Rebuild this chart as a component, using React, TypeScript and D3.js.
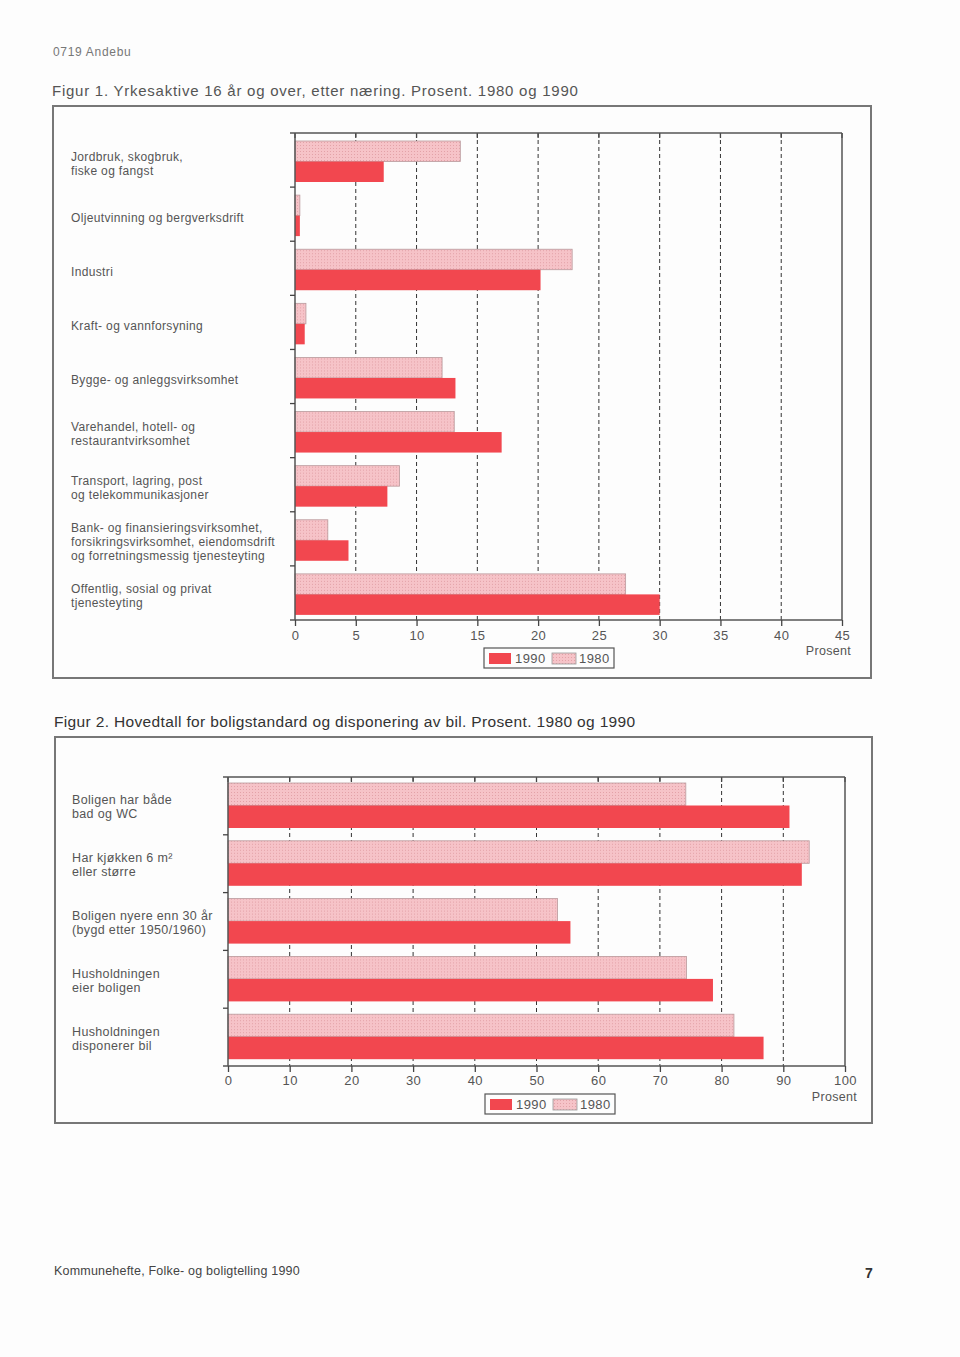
import React, { useRef, useEffect } from "react";
import * as d3 from "d3";

// Figur 1 - yrkesaktive etter næring
const fig1Categories = [
  "Jordbruk, skogbruk,\nfiske og fangst",
  "Oljeutvinning og bergverksdrift",
  "Industri",
  "Kraft- og vannforsyning",
  "Bygge- og anleggsvirksomhet",
  "Varehandel, hotell- og\nrestaurantvirksomhet",
  "Transport, lagring, post\nog telekommunikasjoner",
  "Bank- og finansieringsvirksomhet,\nforsikringsvirksomhet, eiendomsdrift\nog forretningsmessig tjenesteyting",
  "Offentlig, sosial og privat\ntjenesteyting",
];
const fig1Values1980 = [13.6, 0.4, 22.8, 0.9, 12.1, 13.1, 8.6, 2.7, 27.2];
const fig1Values1990 = [7.3, 0.4, 20.2, 0.8, 13.2, 17.0, 7.6, 4.4, 30.0];
const fig1Ticks = [0, 5, 10, 15, 20, 25, 30, 35, 40, 45];

// Figur 2 - boligstandard og bil
const fig2Categories = [
  "Boligen har både\nbad og WC",
  "Har kjøkken 6 m²\neller større",
  "Boligen nyere enn 30 år\n(bygd etter 1950/1960)",
  "Husholdningen\neier boligen",
  "Husholdningen\ndisponerer bil",
];
const fig2Values1980 = [74.2, 94.2, 53.4, 74.3, 82.0];
const fig2Values1990 = [91.0, 93.0, 55.5, 78.6, 86.8];
const fig2Ticks = [0, 10, 20, 30, 40, 50, 60, 70, 80, 90, 100];

const years = ["1980", "1990"];
const RED = "#f2474f";
const PINK = "#f6c3c8";
const FONT = "'Liberation Sans', Arial, sans-serif";

type ChartCfg = {
  cats: string[];
  v1980: number[];
  v1990: number[];
  ticks: number[];
  x0: number;
  x1: number;
  y0: number;
  y1: number;
  labelX: number;
  labelDy: number;
  labelSize: number;
  barTop: number;
  barH: number;
  tickLabelY: number;
  prosentX: number;
  prosentY: number;
  legendX: number;
  legendY: number;
};

function drawChart(svg: any, c: ChartCfg) {
  const g = svg.append("g");
  const x = d3.scaleLinear().domain([0, c.ticks[c.ticks.length - 1]]).range([c.x0, c.x1]);
  const y = d3.scaleBand<number>().domain(d3.range(c.cats.length)).range([c.y0, c.y1]);
  const yy = d3
    .scaleBand<string>()
    .domain(years)
    .range([c.barTop, c.barTop + c.barH * 2]);

  // dashed grid
  g.selectAll(".grid")
    .data(c.ticks.slice(1, -1))
    .join("line")
    .attr("x1", (d: number) => x(d))
    .attr("x2", (d: number) => x(d))
    .attr("y1", c.y0)
    .attr("y2", c.y1)
    .attr("stroke", "#333")
    .attr("stroke-width", 1)
    .attr("stroke-dasharray", "4,3");

  // top ticks
  g.selectAll(".ttick")
    .data(c.ticks)
    .join("line")
    .attr("x1", (d: number) => x(d))
    .attr("x2", (d: number) => x(d))
    .attr("y1", c.y0)
    .attr("y2", c.y0 + 5)
    .attr("stroke", "#444")
    .attr("stroke-width", 1.3);

  const rows = g
    .selectAll(".row")
    .data(c.cats.map((cat, i) => ({ cat, i })))
    .join("g")
    .attr("transform", (d: any) => `translate(0,${y(d.i)})`);

  rows
    .append("rect")
    .attr("x", x(0))
    .attr("y", yy("1980"))
    .attr("width", (d: any) => x(c.v1980[d.i]) - x(0))
    .attr("height", yy.bandwidth())
    .attr("fill", "url(#dots)")
    .attr("stroke", "#b9999c")
    .attr("stroke-width", 0.8);

  rows
    .append("rect")
    .attr("x", x(0))
    .attr("y", yy("1990"))
    .attr("width", (d: any) => x(c.v1990[d.i]) - x(0))
    .attr("height", yy.bandwidth())
    .attr("fill", RED);

  // category labels
  rows.each(function (this: any, d: any) {
    const lines = d.cat.split("\n");
    const mid = y.bandwidth() / 2 + c.labelDy;
    const t = d3
      .select(this)
      .append("text")
      .attr("font-family", FONT)
      .attr("font-size", c.labelSize)
      .attr("letter-spacing", 0.35)
      .attr("fill", "#555");
    lines.forEach((ln: string, k: number) => {
      t.append("tspan")
        .attr("x", c.labelX)
        .attr("y", mid + 4 + (k - (lines.length - 1) / 2) * 14)
        .text(ln);
    });
  });

  // frame: top, right, left axis
  g.append("line")
    .attr("x1", c.x0 - 5).attr("x2", c.x1)
    .attr("y1", c.y0).attr("y2", c.y0)
    .attr("stroke", "#555").attr("stroke-width", 1.5);
  g.append("line")
    .attr("x1", c.x1).attr("x2", c.x1)
    .attr("y1", c.y0).attr("y2", c.y1)
    .attr("stroke", "#555").attr("stroke-width", 1.5);
  g.append("line")
    .attr("x1", c.x0).attr("x2", c.x0)
    .attr("y1", c.y0).attr("y2", c.y1)
    .attr("stroke", "#555").attr("stroke-width", 1.5);
  g.selectAll(".ctick")
    .data(d3.range(1, c.cats.length))
    .join("line")
    .attr("x1", c.x0 - 5).attr("x2", c.x0)
    .attr("y1", (d: number) => y(d)).attr("y2", (d: number) => y(d))
    .attr("stroke", "#444").attr("stroke-width", 1.3);

  // bottom axis
  const axis = g
    .append("g")
    .attr("transform", `translate(0,${c.y1})`)
    .call(d3.axisBottom(x).tickValues(c.ticks).tickSize(6).tickPadding(3).tickSizeOuter(0));
  axis.select(".domain").attr("stroke", "#555").attr("stroke-width", 1.5).attr("d", `M${c.x0 - 5},0H${c.x1}`);
  axis.selectAll(".tick line").attr("stroke", "#444").attr("stroke-width", 1.3);
  axis
    .selectAll(".tick text")
    .attr("font-family", FONT)
    .attr("font-size", 13)
    .attr("letter-spacing", 0.4)
    .attr("fill", "#555")
    .attr("dy", null)
    .attr("y", c.tickLabelY - c.y1);

  g.append("text")
    .attr("x", c.prosentX)
    .attr("y", c.prosentY)
    .attr("text-anchor", "end")
    .attr("font-family", FONT)
    .attr("font-size", 12.5)
    .attr("letter-spacing", 0.3)
    .attr("fill", "#555")
    .text("Prosent");

  // legend
  const lg = g.append("g").attr("transform", `translate(${c.legendX},${c.legendY})`);
  lg.append("rect").attr("width", 130).attr("height", 20).attr("fill", "none").attr("stroke", "#555").attr("stroke-width", 1.2);
  lg.append("rect").attr("x", 5).attr("y", 5).attr("width", 22).attr("height", 11).attr("fill", RED);
  lg.append("text").attr("x", 31).attr("y", 15).attr("font-family", FONT).attr("font-size", 13).attr("letter-spacing", 0.4).attr("fill", "#555").text("1990");
  lg.append("rect").attr("x", 68).attr("y", 5).attr("width", 24).attr("height", 11).attr("fill", "url(#dots)").attr("stroke", "#999").attr("stroke-width", 0.8);
  lg.append("text").attr("x", 95).attr("y", 15).attr("font-family", FONT).attr("font-size", 13).attr("letter-spacing", 0.4).attr("fill", "#555").text("1980");
}

function App() {
  const svgRef = useRef<any>();

  useEffect(() => {
    document.body.style.margin = "0";
    const svg = d3.select(svgRef.current);
    svg.selectAll("*").remove();

    const defs = svg.append("defs");
    const pat = defs
      .append("pattern")
      .attr("id", "dots")
      .attr("width", 3)
      .attr("height", 3)
      .attr("patternUnits", "userSpaceOnUse");
    pat.append("rect").attr("width", 3).attr("height", 3).attr("fill", PINK);
    pat.append("rect").attr("width", 1).attr("height", 1).attr("fill", "#e3a2a8");

    svg.append("rect").attr("width", 960).attr("height", 1357).attr("fill", "#fdfdfd");

    const txt = (x: number, y: number, s: string, size: number, fill: string, ls: number, weight = "normal") =>
      svg
        .append("text")
        .attr("x", x)
        .attr("y", y)
        .attr("font-family", FONT)
        .attr("font-size", size)
        .attr("font-weight", weight)
        .attr("letter-spacing", ls)
        .attr("fill", fill)
        .text(s);

    txt(53, 56, "0719 Andebu", 12, "#777", 0.7);
    txt(52, 96, "Figur 1. Yrkesaktive 16 år og over, etter næring.  Prosent.  1980 og 1990", 15, "#555", 0.75);
    txt(54, 727, "Figur 2. Hovedtall for boligstandard og disponering av bil.  Prosent.  1980 og 1990", 15.5, "#333", 0.35);
    txt(54, 1275, "Kommunehefte, Folke- og boligtelling 1990", 12.5, "#444", 0.2);
    txt(865, 1278, "7", 14, "#333", 0, "bold");

    // outer boxes
    svg.append("rect").attr("x", 53).attr("y", 106).attr("width", 818).attr("height", 572)
      .attr("fill", "none").attr("stroke", "#777").attr("stroke-width", 2);
    svg.append("rect").attr("x", 55).attr("y", 737).attr("width", 817).attr("height", 386)
      .attr("fill", "none").attr("stroke", "#777").attr("stroke-width", 2);

    drawChart(svg, {
      cats: fig1Categories,
      v1980: fig1Values1980,
      v1990: fig1Values1990,
      ticks: fig1Ticks,
      x0: 295,
      x1: 842,
      y0: 133,
      y1: 620,
      labelX: 71,
      labelDy: 3.5,
      labelSize: 12,
      barTop: 8,
      barH: 20.5,
      tickLabelY: 640,
      prosentX: 851,
      prosentY: 655,
      legendX: 484,
      legendY: 648,
    });

    drawChart(svg, {
      cats: fig2Categories,
      v1980: fig2Values1980,
      v1990: fig2Values1990,
      ticks: fig2Ticks,
      x0: 228,
      x1: 845,
      y0: 777,
      y1: 1066,
      labelX: 72,
      labelDy: 1.5,
      labelSize: 12.5,
      barTop: 6,
      barH: 22.5,
      tickLabelY: 1085,
      prosentX: 857,
      prosentY: 1101,
      legendX: 485,
      legendY: 1094,
    });
  }, []);

  return <svg ref={svgRef} width={960} height={1357} style={{ display: "block" }} />;
}

export default App;
